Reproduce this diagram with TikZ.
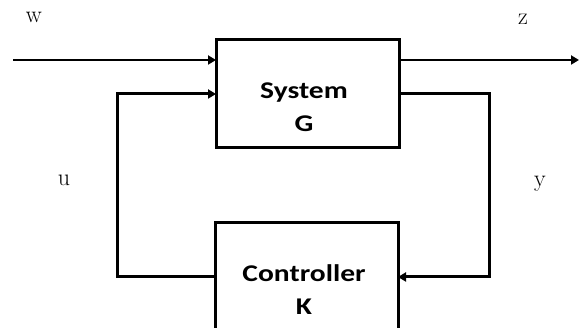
\documentclass[tikz,border=0pt]{standalone}
\usepackage{fontspec}
\newfontfamily\boxfont{Carlito}
\usetikzlibrary{arrows.meta}
\begin{document}
\begin{tikzpicture}[x=1pt,y=-1pt,
  lbl/.style={font=\fontsize{24}{24}\selectfont},
  sig/.style={line width=2pt,-{Triangle[length=8pt,width=9pt]}},
  fb/.style={line width=3pt,-{Triangle[length=8pt,width=9pt]}},
  btxt/.style={font=\boxfont\bfseries\fontsize{24}{33}\selectfont,inner sep=0pt}]
\useasboundingbox (0,0) rectangle (579,328);
\begin{scope}
\clip (0,0) rectangle (579,328);
\draw[line width=3pt] (216,40) rectangle (399,148);
\draw[line width=3pt] (215,223) rectangle (398,340);
\end{scope}
\coordinate (sysW) at (216,60);
\coordinate (sysU) at (216,94);
\coordinate (sysZ) at (399,60);
\coordinate (sysY) at (399,94);
\coordinate (conY) at (398,277);
\coordinate (conU) at (215,277);
\node[btxt] (sys) at (304,108) {\scalebox{1.23}[1]{\begin{tabular}{@{}c@{}}System\\G\end{tabular}}};
\node[btxt] (con) at (304,291) {\scalebox{1.23}[1]{\begin{tabular}{@{}c@{}}Controller\\K\end{tabular}}};
\coordinate (wstart) at (13,60);
\coordinate (zend) at (579,60);
\draw[sig] (wstart) -- (sysW);
\draw[sig] (sysZ) -- (zend);
\draw[fb] (conU) -| (117,94) -- (sysU);
\draw[fb] (sysY) -| (489,277) -- (conY);
\node[lbl] (w) at (34,17) {w};
\node[lbl] (z) at (523,19) {z};
\node[lbl] (u) at (64,180) {u};
\node[lbl] (y) at (540,184) {y};
\end{tikzpicture}
\end{document}
